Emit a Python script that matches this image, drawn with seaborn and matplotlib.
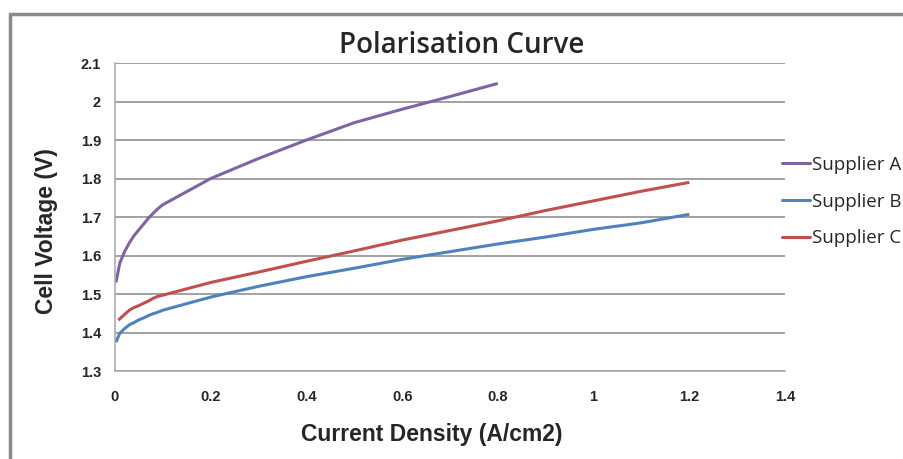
import matplotlib
matplotlib.use("Agg")
import matplotlib.pyplot as plt
from matplotlib.patches import Rectangle
from matplotlib.lines import Line2D
import seaborn as sns
import pandas as pd

# Current density (A/cm2) and cell voltage (V) for each supplier
current_a = [0.002, 0.01, 0.02, 0.03, 0.04, 0.05, 0.06, 0.07, 0.08, 0.09, 0.1,
             0.2, 0.3, 0.4, 0.5, 0.6, 0.7, 0.8]
voltage_a = [1.530, 1.580, 1.610, 1.633, 1.652, 1.667, 1.682, 1.697, 1.710, 1.722, 1.732,
             1.800, 1.852, 1.900, 1.945, 1.980, 2.013, 2.047]

current_b = [0.002, 0.01, 0.02, 0.03, 0.04, 0.05, 0.06, 0.07, 0.08, 0.09, 0.1,
             0.2, 0.3, 0.4, 0.5, 0.6, 0.7, 0.8, 0.9, 1.0, 1.1, 1.2]
voltage_b = [1.375, 1.398, 1.410, 1.420, 1.426, 1.433, 1.438, 1.444, 1.449, 1.453, 1.458,
             1.492, 1.520, 1.545, 1.567, 1.590, 1.610, 1.630, 1.648, 1.668, 1.685, 1.707]

current_c = [0.007, 0.02, 0.03, 0.04, 0.05, 0.06, 0.07, 0.08, 0.09, 0.1,
             0.2, 0.3, 0.4, 0.5, 0.6, 0.7, 0.8, 0.9, 1.0, 1.1, 1.2]
voltage_c = [1.432, 1.447, 1.458, 1.465, 1.470, 1.476, 1.482, 1.489, 1.494, 1.497,
             1.530, 1.557, 1.585, 1.612, 1.640, 1.665, 1.690, 1.717, 1.742, 1.767, 1.790]

suppliers = ["Supplier A", "Supplier B", "Supplier C"]
colors = ["#8064A2", "#4F81BD", "#C0504D"]

x_ticks = [0, 0.2, 0.4, 0.6, 0.8, 1.0, 1.2, 1.4]
x_tick_labels = ["0", "0.2", "0.4", "0.6", "0.8", "1", "1.2", "1.4"]
y_ticks = [1.3, 1.4, 1.5, 1.6, 1.7, 1.8, 1.9, 2.0, 2.1]
y_tick_labels = ["1.3", "1.4", "1.5", "1.6", "1.7", "1.8", "1.9", "2", "2.1"]

frames = []
for name, xs, ys in zip(suppliers, [current_a, current_b, current_c],
                        [voltage_a, voltage_b, voltage_c]):
    frames.append(pd.DataFrame({"current": xs, "voltage": ys, "supplier": name}))
df = pd.concat(frames, ignore_index=True)

sns.set_style("white")
plt.rcParams["font.family"] = ["Liberation Sans", "DejaVu Sans"]

fig = plt.figure(figsize=(9.04, 4.59), dpi=100)
ax = fig.add_axes([0.1272, 0.1917, 0.7412, 0.671])

sns.lineplot(data=df, x="current", y="voltage", hue="supplier",
             hue_order=suppliers, palette=colors, linewidth=2.2,
             sort=False, estimator=None, legend=False, ax=ax,
             solid_capstyle="butt")

ax.set_xlim(0, 1.4)
ax.set_ylim(1.3, 2.1)
ax.set_xticks(x_ticks)
ax.set_xticklabels(x_tick_labels)
ax.set_yticks(y_ticks)
ax.set_yticklabels(y_tick_labels)

grid_color = "#878787"
ax.grid(axis="y", color=grid_color, linewidth=1.1)
ax.grid(axis="x", visible=False)
ax.set_axisbelow(True)
for side in ["top", "right"]:
    ax.spines[side].set_visible(False)
for side in ["left", "bottom"]:
    ax.spines[side].set_color("#A6A6A6")
    ax.spines[side].set_linewidth(1.1)

ax.tick_params(axis="both", which="major", direction="out", length=5,
               width=1.0, color="#A6A6A6", labelsize=10.5, pad=5)
for lbl in ax.get_xticklabels() + ax.get_yticklabels():
    lbl.set_fontweight("bold")
ax.tick_params(axis="x", pad=9)

ax.set_xlabel("Current Density (A/cm2)", fontsize=16.5, fontweight="bold")
ax.set_ylabel("Cell Voltage (V)", fontsize=16.5, fontweight="bold")
ax.xaxis.set_label_coords(0.473, -0.17)
ax.yaxis.set_label_coords(-0.0845, 0.453)

fig.text(0.511, 0.900, "Polarisation Curve", ha="center", va="center",
         fontsize=20, fontweight="semibold", family=["Open Sans", "DejaVu Sans"])

handles = [Line2D([0], [0], color=c, linewidth=2.2) for c in colors]
fig.legend(handles, suppliers, loc="center left", bbox_to_anchor=(0.846, 0.561),
           frameon=False, handlelength=1.5, handletextpad=0.12,
           labelspacing=0.99, prop={"family": ["Open Sans", "DejaVu Sans"], "size": 13.5})

# chart area border
fig.patches.append(Rectangle((0.0115, -0.05), 1.2, 1.02, transform=fig.transFigure,
                             fill=False, edgecolor="#8A8A8A", linewidth=2.5))

fig.savefig("out.png", dpi=100)
